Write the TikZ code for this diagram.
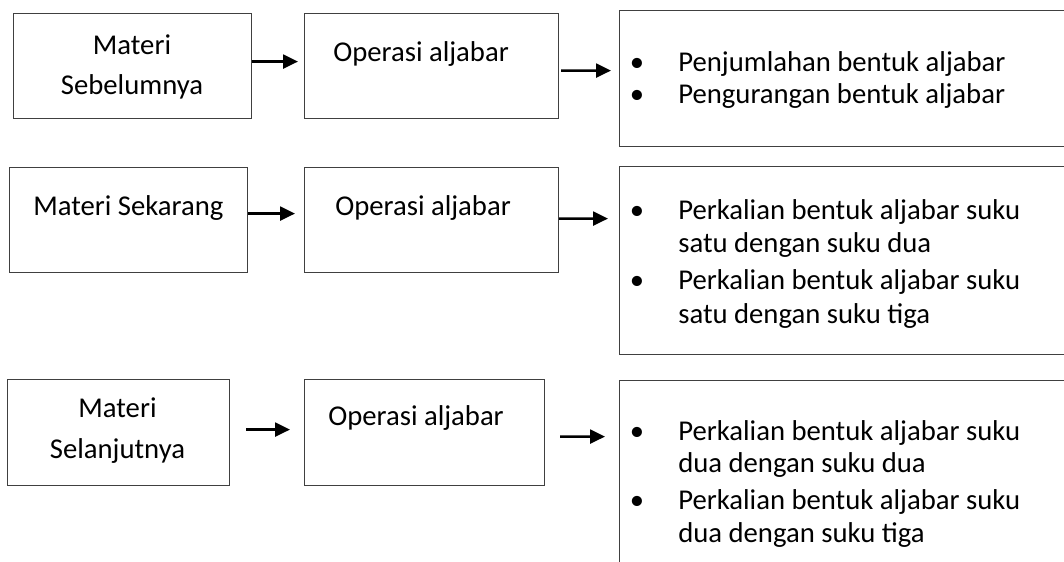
\documentclass[tikz,border=0pt]{standalone}
\usepackage{fontspec}
\setmainfont{Carlito}
\usetikzlibrary{arrows.meta,positioning}

\tikzset{
  kotak/.style={draw=black!75,line width=0.8pt,inner sep=0pt,anchor=north west},
  teks/.style={inner sep=0pt,font=\fontsize{20.4}{28.4}\selectfont},
  panah/.style={-{Triangle[length=10.5pt,width=9.8pt]},line width=1.8pt},
}

\begin{document}
\begin{tikzpicture}[x=0.025cm,y=-0.025cm]
    \useasboundingbox(0,0)rectangle(1064,561);
    \clip(0,0)rectangle(1064,561);
    % baris 1
    \node[kotak,minimum width=5.95cm,minimum height=2.625cm](prev)at(13,13){};
    \node[kotak,minimum width=6.35cm,minimum height=2.625cm](op1)at(304,13){};
    \node[kotak,minimum width=12.5cm,minimum height=3.4cm](hasil1)at(619,10){};
    \node[teks,align=center,anchor=base](tprev)at(132,94){Materi\\Sebelumnya};
    \node[teks,anchor=base west](top1)at(333,61.5){Operasi aljabar};
    \node[teks,anchor=base west,font=\fontsize{20.4}{23}\selectfont](thasil1)at(629.5,71){%
        \begin{tabular}[t]{@{}l@{}l@{}}
        \makebox[1.2125cm][l]{\textbullet}&Penjumlahan bentuk aljabar\\
        \textbullet&Pengurangan bentuk aljabar
        \end{tabular}};
    \draw[panah,shorten >=0.15cm]([yshift=0.1125cm]prev.east)--([yshift=0.1125cm]op1.west);
    \draw[panah,shorten <=0.05cm,shorten >=0.2cm]([yshift=-0.1125cm]op1.east)--([yshift=0.2cm]hasil1.west);

    % baris 2
    \node[kotak,minimum width=5.95cm,minimum height=2.625cm](now)at(9,167){};
    \node[kotak,minimum width=6.35cm,minimum height=2.625cm](op2)at(304,167){};
    \node[kotak,minimum width=12.5cm,minimum height=4.7cm](hasil2)at(619,166){};
    \node[teks,anchor=base west](tnow)at(33,215){Materi Sekarang};
    \node[teks,anchor=base west](top2)at(335,215){Operasi aljabar};
    \node[teks,anchor=base west,font=\fontsize{20.4}{24.1}\selectfont](thasil2)at(629.5,219){%
        \begin{tabular}[t]{@{}l@{}l@{}}
        \makebox[1.2125cm][l]{\textbullet}&Perkalian bentuk aljabar suku\\
        &satu dengan suku dua\\[0.075cm]
        \textbullet&Perkalian bentuk aljabar suku\\
        &satu dengan suku tiga
        \end{tabular}};
    \draw[panah,shorten >=0.225cm]([yshift=0.1625cm]now.east)--([yshift=0.1625cm]op2.west);
    \draw[panah,shorten >=0.275cm]([yshift=0.0375cm]op2.east)--([yshift=1.05cm]hasil2.west);

    % baris 3
    \node[kotak,minimum width=5.55cm,minimum height=2.65cm](next)at(7,379){};
    \node[kotak,minimum width=6cm,minimum height=2.65cm](op3)at(304,379){};
    \node[kotak,minimum width=12.5cm,minimum height=6.25cm](hasil3)at(619,380){};
    \node[teks,align=center,anchor=base,font=\fontsize{20.4}{29.1}\selectfont](tnext)at(117.5,458){Materi\\Selanjutnya};
    \node[teks,anchor=base west](top3)at(328,425){Operasi aljabar};
    \node[teks,anchor=base west,font=\fontsize{20.4}{23.4}\selectfont](thasil3)at(629.5,440){%
        \begin{tabular}[t]{@{}l@{}l@{}}
        \makebox[1.2125cm][l]{\textbullet}&Perkalian bentuk aljabar suku\\
        &dua dengan suku dua\\[0.1cm]
        \textbullet&Perkalian bentuk aljabar suku\\
        &dua dengan suku tiga
        \end{tabular}};
    \draw[panah,shorten <=0.4cm,shorten >=0.35cm]([yshift=0.075cm]next.east)--([yshift=0.075cm]op3.west);
    \draw[panah,shorten <=0.375cm,shorten >=0.35cm]([yshift=-0.1cm]op3.east)--([yshift=1.725cm]hasil3.west);
\end{tikzpicture}
\end{document}
